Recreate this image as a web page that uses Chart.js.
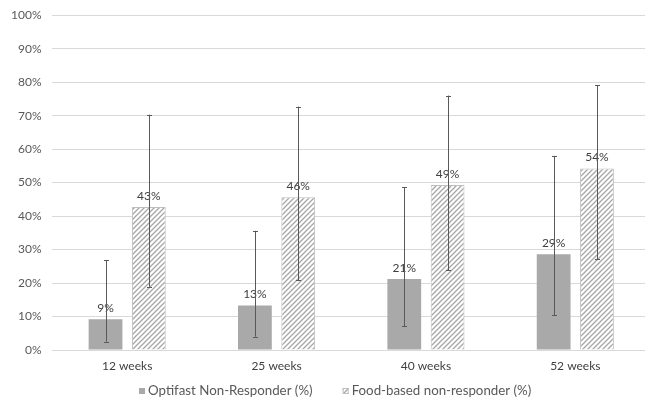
<!DOCTYPE html>
<html>
<head>
<meta charset="utf-8">
<script src="https://cdn.jsdelivr.net/npm/chart.js@4/dist/chart.umd.min.js"></script>
<style>
  html, body { margin: 0; padding: 0; background: #fff; overflow: hidden; }
  #wrap { width: 645px; height: 402px; overflow: hidden; }
  #c { display: block; margin-top: -3px; }
</style>
</head>
<body>
<div id="wrap"><canvas id="c" width="671" height="405"></canvas></div>
<script>
const categories = ['12 weeks', '25 weeks', '40 weeks', '52 weeks'];
const optifast = [9.2, 13.3, 21.2, 28.6];
const optifastLow = [2.5, 4.0, 7.1, 10.4];
const optifastHigh = [26.9, 35.6, 48.6, 58.0];
const foodBased = [42.7, 45.6, 49.3, 54.2];
const foodLow = [18.9, 20.8, 23.8, 27.1];
const foodHigh = [70.3, 72.7, 76.0, 79.1];
const yTicks = [0, 10, 20, 30, 40, 50, 60, 70, 80, 90, 100];

const FONT = 'Lato, "Open Sans", sans-serif';

function makeHatch() {
  const s = 5;
  const p = document.createElement('canvas');
  p.width = s; p.height = s;
  const g = p.getContext('2d');
  g.fillStyle = '#ffffff';
  g.fillRect(0, 0, s, s);
  g.strokeStyle = '#a6a6a6';
  g.lineWidth = 1.3;
  g.beginPath();
  g.moveTo(-1, s + 1); g.lineTo(s + 1, -1);
  g.moveTo(-1, 1); g.lineTo(1, -1);
  g.moveTo(s - 1, s + 1); g.lineTo(s + 1, s - 1);
  g.stroke();
  return document.getElementById('c').getContext('2d').createPattern(p, 'repeat');
}
const hatch = makeHatch();

const errorLow = [optifastLow, foodLow];
const errorHigh = [optifastHigh, foodHigh];

const extrasPlugin = {
  id: 'extras',
  afterDatasetsDraw(chart) {
    const ctx = chart.ctx;
    const y = chart.scales.y;
    chart.data.datasets.forEach((ds, di) => {
      const meta = chart.getDatasetMeta(di);
      meta.data.forEach((bar, i) => {
        ctx.save();
        ctx.font = '12px ' + FONT;
        ctx.fillStyle = '#404040';
        ctx.textAlign = 'center';
        ctx.textBaseline = 'middle';
        ctx.fillText(Math.round(ds.data[i]) + '%', bar.x, bar.y - 11);
        ctx.restore();
        const yl = y.getPixelForValue(errorLow[di][i]);
        const yh = y.getPixelForValue(errorHigh[di][i]);
        const x = Math.round(bar.x) + 0.5;
        ctx.save();
        ctx.strokeStyle = '#595959';
        ctx.lineWidth = 1;
        ctx.beginPath();
        ctx.moveTo(x, yl); ctx.lineTo(x, yh);
        ctx.moveTo(x - 2.5, Math.round(yl) + 0.5); ctx.lineTo(x + 2.5, Math.round(yl) + 0.5);
        ctx.moveTo(x - 2.5, Math.round(yh) + 0.5); ctx.lineTo(x + 2.5, Math.round(yh) + 0.5);
        ctx.stroke();
        ctx.restore();
      });
    });
  },
  afterDraw(chart) {
    // legend built from the datasets
    const ctx = chart.ctx;
    const ds = chart.data.datasets;
    const box = 6, gapBoxText = 3, gapItems = 30, cy = 394;
    ctx.save();
    ctx.font = '13.3px ' + FONT;
    const widths = ds.map(d => ctx.measureText(d.label).width);
    const total = widths.reduce((a, w) => a + box + gapBoxText + w, 0) + gapItems * (ds.length - 1);
    let x = Math.round(335.5 - total / 2);
    ds.forEach((d, i) => {
      ctx.fillStyle = d.backgroundColor;
      ctx.fillRect(x, cy - box / 2, box, box);
      if (d.borderWidth) {
        ctx.strokeStyle = d.borderColor;
        ctx.lineWidth = 1;
        ctx.strokeRect(x + 0.5, cy - box / 2 + 0.5, box - 1, box - 1);
      }
      ctx.fillStyle = '#595959';
      ctx.textAlign = 'left';
      ctx.textBaseline = 'middle';
      ctx.fillText(d.label, x + box + gapBoxText, cy);
      x += box + gapBoxText + widths[i] + gapItems;
    });
    ctx.restore();
  }
};

new Chart(document.getElementById('c'), {
  type: 'bar',
  data: {
    labels: categories,
    datasets: [
      {
        label: 'Optifast Non-Responder (%)',
        data: optifast,
        backgroundColor: '#a9a9a9',
        borderWidth: 0
      },
      {
        label: 'Food-based non-responder (%)',
        data: foodBased,
        backgroundColor: hatch,
        borderColor: '#bfbfbf',
        borderWidth: 1
      }
    ]
  },
  options: {
    responsive: false,
    animation: false,
    categoryPercentage: 0.58,
    barPercentage: 0.78,
    layout: { padding: { top: 0, right: 21, left: 0, bottom: 19.6 } },
    plugins: {
      legend: { display: false },
      tooltip: { enabled: false }
    },
    scales: {
      x: {
        grid: { display: false, drawTicks: false },
        border: { display: true, color: '#d9d9d9' },
        ticks: { color: '#404040', padding: 9, font: { family: FONT, size: 12 } }
      },
      y: {
        min: 0,
        max: 100,
        afterBuildTicks(axis) { axis.ticks = yTicks.map(v => ({ value: v })); },
        grid: { color: '#d9d9d9', drawTicks: false },
        border: { display: false },
        ticks: {
          color: '#595959',
          padding: 11,
          font: { family: FONT, size: 12 },
          callback: v => v + '%'
        }
      }
    }
  },
  plugins: [extrasPlugin]
});
</script>
</body>
</html>
